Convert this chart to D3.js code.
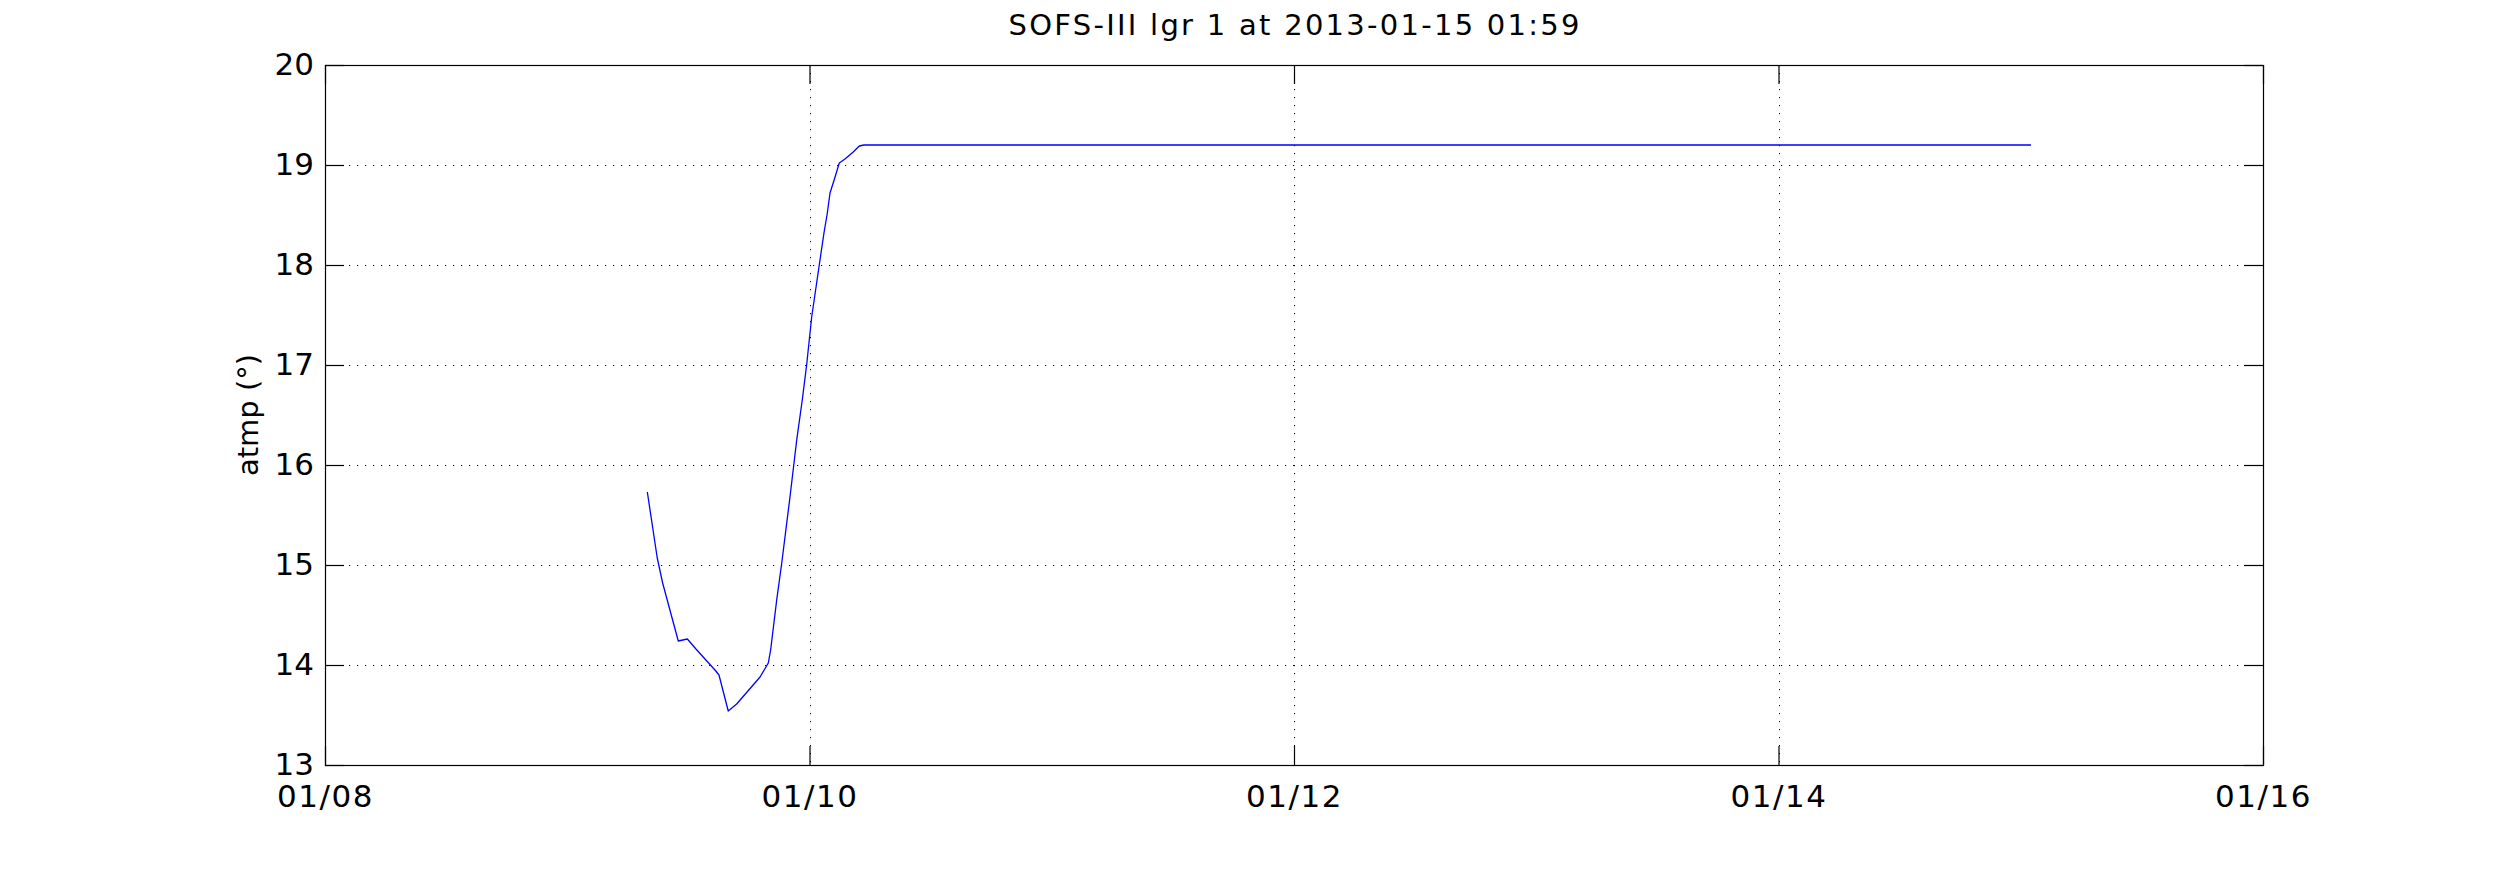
<!DOCTYPE html>
<html>
<head>
<meta charset="utf-8">
<script src="https://cdn.jsdelivr.net/npm/d3@7"></script>
<style>
  html, body { margin: 0; padding: 0; background: #fff; }
  svg { display: block; font-family: "DejaVu Sans", sans-serif; }
</style>
</head>
<body>
<svg id="chart" width="2500" height="875"></svg>
<script>
// ---- data ----
const titleText = "SOFS-III lgr 1 at 2013-01-15 01:59";
const yLabel = "atmp (\u00B0)";
const xDomain = ["2013-01-08T00:00", "2013-01-16T00:00"];
const xTickDates = ["2013-01-08T00:00", "2013-01-10T00:00", "2013-01-12T00:00", "2013-01-14T00:00", "2013-01-16T00:00"];
const yDomain = [13, 20];
const yTickValues = [13, 14, 15, 16, 17, 18, 19, 20];
const times = [
  "2013-01-09T07:56", "2013-01-09T08:55", "2013-01-09T09:27", "2013-01-09T11:00",
  "2013-01-09T11:54", "2013-01-09T12:45", "2013-01-09T14:38", "2013-01-09T15:02",
  "2013-01-09T15:57", "2013-01-09T16:47", "2013-01-09T19:06", "2013-01-09T19:55",
  "2013-01-09T20:09", "2013-01-09T20:45", "2013-01-09T21:15", "2013-01-09T22:04",
  "2013-01-09T22:44", "2013-01-09T23:17", "2013-01-09T23:43", "2013-01-10T00:13",
  "2013-01-10T00:58", "2013-01-10T01:26", "2013-01-10T01:46", "2013-01-10T02:02",
  "2013-01-10T02:32", "2013-01-10T02:57", "2013-01-10T03:31", "2013-01-10T04:20",
  "2013-01-10T04:56", "2013-01-10T05:24", "2013-01-15T01:01"
];
const values = [
  15.73, 15.07, 14.82, 14.24,
  14.26, 14.16, 13.95, 13.90,
  13.54, 13.61, 13.88, 14.02,
  14.15, 14.65, 15.02, 15.68,
  16.25, 16.65, 17.00, 17.48,
  18.00, 18.32, 18.52, 18.72,
  18.88, 19.02, 19.06, 19.13,
  19.19, 19.20, 19.20
];

// ---- layout ----
const margin = { left: 325, top: 65 };
const W = 1938, H = 700;
const tickLen = 19;

const parse = d3.utcParse("%Y-%m-%dT%H:%M");
const data = times.map((t, i) => ({ t: parse(t), v: values[i] }));

const svg = d3.select("#chart");
const g = svg.append("g").attr("transform", `translate(${margin.left},${margin.top})`);

const x = d3.scaleUtc().domain(xDomain.map(parse)).range([0, W]);
const y = d3.scaleLinear().domain(yDomain).range([H, 0]);
const xTicks = xTickDates.map(parse);
const fmt = d3.utcFormat("%m/%d");

// grid (dotted)
const grid = g.append("g").attr("class", "grid")
  .attr("stroke", "#000").attr("stroke-width", 1).attr("stroke-dasharray", "1.2,6.8");
grid.selectAll("line.gy").data(yTickValues.filter(v => v > yDomain[0] && v < yDomain[1]))
  .join("line").attr("class", "gy")
  .attr("x1", 0).attr("x2", W)
  .attr("y1", d => Math.round(y(d)) + 0.5).attr("y2", d => Math.round(y(d)) + 0.5);
grid.selectAll("line.gx").data(xTicks.slice(1, -1))
  .join("line").attr("class", "gx")
  .attr("y1", 0).attr("y2", H)
  .attr("x1", d => Math.round(x(d)) + 0.5).attr("x2", d => Math.round(x(d)) + 0.5);

// data line
const line = d3.line().x(d => x(d.t)).y(d => y(d.v));
g.append("path").datum(data)
  .attr("fill", "none").attr("stroke", "#0000ff").attr("stroke-width", 1.3)
  .attr("stroke-linejoin", "round")
  .attr("d", line);

// axes with inward ticks
function styleAxis(sel) {
  sel.select(".domain").remove();
  sel.selectAll(".tick line").attr("stroke", "#000").attr("stroke-width", 1.2);
  sel.selectAll(".tick text").attr("fill", "#000")
    .style("font-family", "'DejaVu Sans', sans-serif").style("font-size", "31px");
}
g.append("g").attr("transform", `translate(0,${H})`)
  .call(d3.axisBottom(x).tickValues(xTicks).tickFormat(fmt).tickSizeInner(-tickLen).tickSizeOuter(0).tickPadding(20))
  .call(styleAxis)
  .call(s => s.selectAll(".tick text").attr("letter-spacing", "1.5px"));
g.append("g")
  .call(d3.axisTop(x).tickValues(xTicks).tickFormat("").tickSizeInner(-tickLen).tickSizeOuter(0))
  .call(styleAxis);
g.append("g")
  .call(d3.axisLeft(y).tickValues(yTickValues).tickFormat(d3.format("d")).tickSizeInner(-tickLen).tickSizeOuter(0).tickPadding(11))
  .call(styleAxis);
g.append("g").attr("transform", `translate(${W},0)`)
  .call(d3.axisRight(y).tickValues(yTickValues).tickFormat("").tickSizeInner(-tickLen).tickSizeOuter(0))
  .call(styleAxis);

// box
g.append("rect").attr("x", 0.5).attr("y", 0.5).attr("width", W).attr("height", H)
  .attr("fill", "none").attr("stroke", "#000").attr("stroke-width", 1.2);

// title
svg.append("text")
  .attr("x", margin.left + W / 2).attr("y", 35)
  .attr("text-anchor", "middle")
  .style("font-size", "29px").attr("fill", "#000")
  .attr("textLength", 571).attr("lengthAdjust", "spacing")
  .text(titleText);

// y label
svg.append("text")
  .attr("transform", `translate(258,${margin.top + H / 2}) rotate(-90)`)
  .attr("text-anchor", "middle")
  .style("font-size", "29px").attr("fill", "#000")
  .text(yLabel);
</script>
</body>
</html>
